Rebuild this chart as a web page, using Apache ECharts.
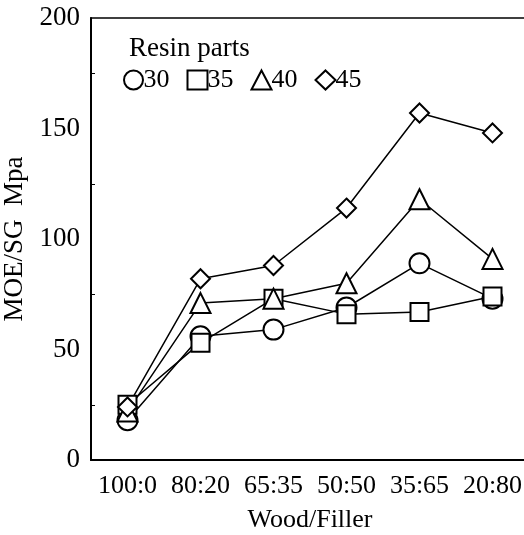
<!DOCTYPE html>
<html>
<head>
<meta charset="utf-8">
<script src="https://cdn.jsdelivr.net/npm/echarts@6/dist/echarts.min.js"></script>
<style>
  html, body { margin: 0; padding: 0; background: #fff; }
  #main { width: 524px; height: 535px; }
</style>
</head>
<body>
<div id="main"></div>
<script>
// Wood/Filler ratios on the x axis
const categories = ['100:0', '80:20', '65:35', '50:50', '35:65', '20:80'];
// MOE/SG per resin parts
const resin30 = [18, 56, 59, 69, 89, 73];
const resin35 = [25, 53, 73, 66, 67, 74];
const resin40 = [22, 71, 73, 80, 118, 91];
const resin45 = [24, 82, 88, 114, 157, 148];
const yTicks = [0, 50, 100, 150, 200];

const FONT = 'Liberation Serif';

var myChart = echarts.init(document.getElementById('main'));

function line(name, data, symbol, size) {
  return {
    name: name,
    type: 'line',
    data: data,
    symbol: symbol,
    symbolSize: size,
    showAllSymbol: true,
    lineStyle: { color: '#000', width: 1.5 },
    itemStyle: { color: '#000', borderColor: '#000', borderWidth: 1.5 },
    z: 3
  };
}

let options = {
  animation: false,
  backgroundColor: '#fff',
  textStyle: { fontFamily: FONT, color: '#000' },
  title: {
    text: 'Resin parts',
    left: 124, top: 30,
    textStyle: { fontFamily: FONT, fontSize: 27, fontWeight: 'normal', color: '#000' }
  },
  legend: {
    left: 118, top: 62,
    itemWidth: 20, itemHeight: 19,
    itemGap: 17,
    textStyle: { fontFamily: FONT, fontSize: 26, color: '#000', padding: [0, 0, 0, -5] },
    data: [
      { name: '30', icon: 'emptyCircle' },
      { name: '35', icon: 'emptyRect' },
      { name: '40', icon: 'emptyTriangle' },
      { name: '45', icon: 'emptyDiamond' }
    ],
    itemStyle: { color: '#000', borderColor: '#000', borderWidth: 1.2 },
    lineStyle: { width: 0, opacity: 0 }
  },
  grid: {
    left: 91, right: -5, top: 18, bottom: 75,
    outerBoundsMode: 'none',
    containLabel: false,
    show: true, borderColor: '#000', borderWidth: 1.5
  },
  xAxis: {
    type: 'category',
    data: categories,
    boundaryGap: true,
    name: 'Wood/Filler',
    nameLocation: 'middle',
    nameGap: 47,
    nameTextStyle: { fontFamily: FONT, fontSize: 26, color: '#000' },
    axisLine: { lineStyle: { color: '#000', width: 2 } },
    axisTick: { inside: true, length: 9, lineStyle: { color: '#000', width: 1.5 } },
    axisLabel: { interval: 0, hideOverlap: false, fontFamily: FONT, fontSize: 26, color: '#000', margin: 13 }
  },
  yAxis: {
    type: 'value',
    min: yTicks[0], max: yTicks[yTicks.length - 1], interval: 50,
    name: 'MOE/SG  Mpa',
    nameLocation: 'middle',
    nameRotate: 90,
    nameGap: 58,
    nameTextStyle: { fontFamily: FONT, fontSize: 27, color: '#000' },
    axisLine: { show: true, lineStyle: { color: '#000', width: 2 } },
    axisTick: { inside: true, length: 9, lineStyle: { color: '#000', width: 1.5 } },
    minorTick: { show: true, splitNumber: 2, length: 4, lineStyle: { color: '#000', width: 1 } },
    splitLine: { show: false },
    axisLabel: { fontFamily: FONT, fontSize: 27, color: '#000', margin: 11 }
  },
  series: [
    line('30', resin30, 'emptyCircle', 20),
    line('35', resin35, 'emptyRect', 18),
    line('40', resin40, 'emptyTriangle', 20),
    line('45', resin45, 'emptyDiamond', 19)
  ]
};
myChart.setOption(options);
</script>
</body>
</html>
